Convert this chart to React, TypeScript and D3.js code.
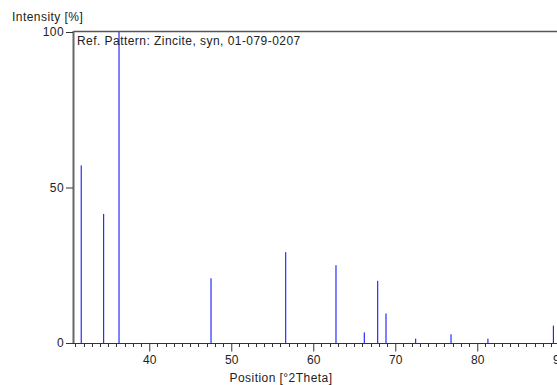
import React, { useEffect, useRef } from 'react';
import * as d3 from 'd3';

// reference pattern lines (2theta position, relative intensity %)
const positions = [31.70, 34.44, 36.31, 47.53, 56.64, 62.77, 66.22, 67.86, 68.87, 72.49, 76.80, 81.30, 89.28];
const intensities = [57.1, 41.5, 100, 20.8, 29.2, 25.0, 3.4, 20.0, 9.5, 1.4, 2.8, 1.4, 5.6];
const xTicks = [40, 50, 60, 70, 80, 90];
const yTicks = [0, 50, 100];
const title = 'Ref. Pattern: Zincite, syn, 01-079-0207';

const FONT = '"Liberation Sans", Arial, sans-serif';

const App = () => {
  const svgRef = useRef<SVGSVGElement>(null);

  useEffect(() => {
    const svg = d3.select(svgRef.current);
    svg.selectAll('*').remove();

    const left = 74;
    const top = 32;
    const bottom = 343;
    const xMin = 30.82;
    const xMax = 91.5;
    const ppu = 8.2;

    const x = d3.scaleLinear().domain([xMin, xMax]).range([left, left + (xMax - xMin) * ppu]);
    const y = d3.scaleLinear().domain([0, 100]).range([bottom, top]);

    // peak lines
    svg.append('g')
      .selectAll('line')
      .data(positions.map((p, i) => ({ p, v: intensities[i] })))
      .enter()
      .append('line')
      .attr('x1', d => x(d.p))
      .attr('x2', d => x(d.p))
      .attr('y1', y(0))
      .attr('y2', d => y(d.v))
      .attr('stroke', '#0000ff')
      .attr('stroke-width', 1);

    // frame
    svg.append('line')
      .attr('x1', left - 0.5).attr('x2', x(xMax))
      .attr('y1', top - 0.5).attr('y2', top - 0.5)
      .attr('stroke', '#555').attr('stroke-width', 1.4);

    svg.append('line')
      .attr('x1', left - 0.5).attr('x2', left - 0.5)
      .attr('y1', top - 1).attr('y2', bottom)
      .attr('stroke', '#666').attr('stroke-width', 2);

    svg.append('line')
      .attr('x1', left - 7).attr('x2', x(xMax))
      .attr('y1', bottom + 0.5).attr('y2', bottom + 0.5)
      .attr('stroke', '#333').attr('stroke-width', 1);

    // x minor ticks
    const minor = d3.range(31, 92).filter(v => v % 10 !== 0);
    svg.append('g')
      .selectAll('line')
      .data(minor)
      .enter()
      .append('line')
      .attr('x1', d => Math.round(x(d)) + 0.5)
      .attr('x2', d => Math.round(x(d)) + 0.5)
      .attr('y1', bottom)
      .attr('y2', bottom + 4)
      .attr('stroke', '#333');

    // x axis
    const xAxis = svg.append('g')
      .attr('transform', `translate(0,${bottom + 0.5})`)
      .call(d3.axisBottom(x).tickValues(xTicks).tickSize(8).tickPadding(4).tickSizeOuter(0));
    xAxis.select('.domain').remove();
    xAxis.selectAll('line').attr('stroke', '#333');
    xAxis.selectAll('text')
      .style('font-family', FONT)
      .style('font-size', '12px')
      .style('fill', '#222');

    // y axis
    const yAxis = svg.append('g')
      .attr('transform', `translate(${left - 1},0)`)
      .call(d3.axisLeft(y).tickValues(yTicks).tickSize(7).tickPadding(2).tickSizeOuter(0));
    yAxis.select('.domain').remove();
    yAxis.selectAll('line').attr('stroke', '#333');
    yAxis.selectAll('text')
      .style('font-family', FONT)
      .style('font-size', '12px')
      .style('letter-spacing', '0.4px')
      .style('fill', '#222');

    // labels
    const label = (tx: number, ty: number, text: string, anchor = 'start') =>
      svg.append('text')
        .attr('x', tx)
        .attr('y', ty)
        .attr('text-anchor', anchor)
        .style('font-family', FONT)
        .style('font-size', '12px')
        .style('letter-spacing', '0.45px')
        .style('fill', '#222')
        .text(text);

    label(12, 21, 'Intensity [%]');
    label(77, 45, title);
    label(281, 382, 'Position [°2Theta]', 'middle');
  }, []);

  return (
    <svg
      ref={svgRef}
      width={557}
      height={385}
      style={{ position: 'absolute', left: 0, top: 0, background: '#fff', overflow: 'hidden' }}
    />
  );
};

export default App;
